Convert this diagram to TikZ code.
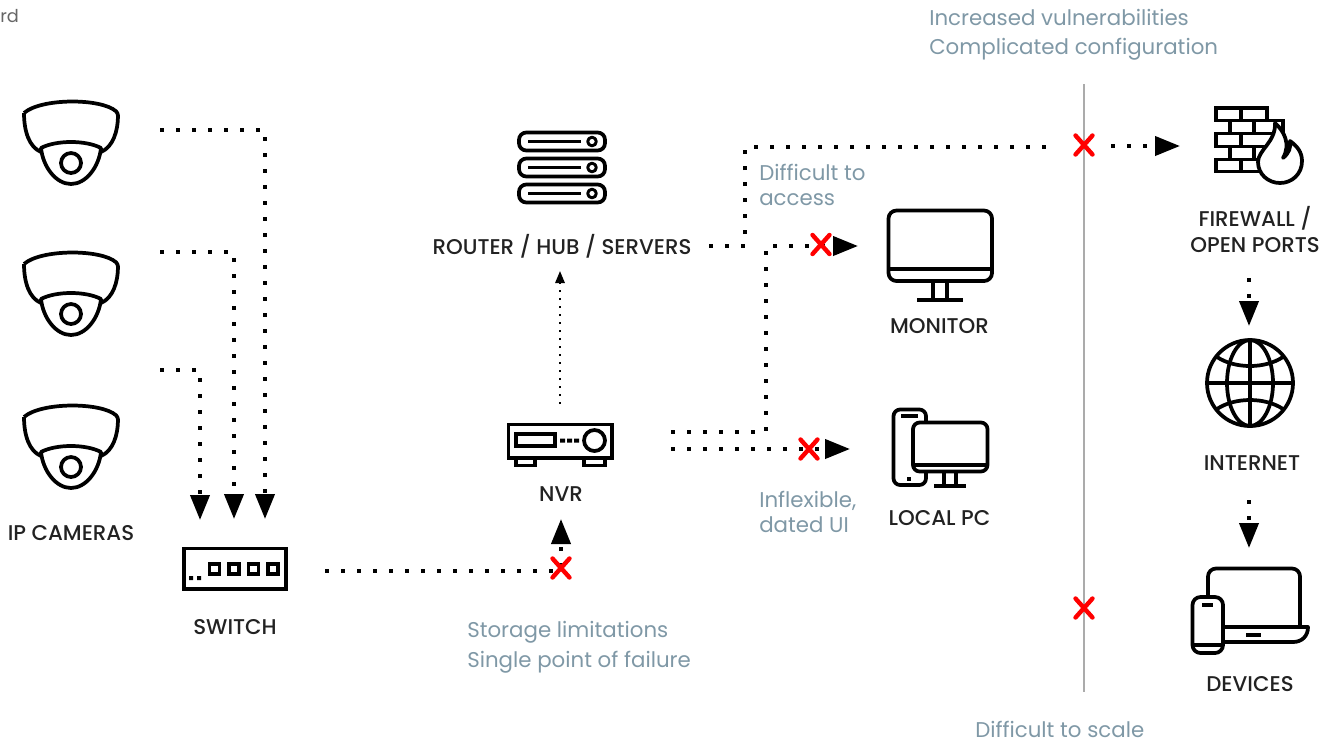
\documentclass[tikz,border=0pt]{standalone}
\usepackage{fontspec}
\setmainfont{Poppins}
\newfontfamily\medfont{Poppins Medium}
\usetikzlibrary{arrows.meta}
\definecolor{lbl}{HTML}{222222}
\definecolor{note}{HTML}{7F98A6}
\definecolor{rule}{HTML}{ABABAB}
\tikzset{
  x=0.75pt,y=-0.75pt,
  ico/.style={line width=2.8pt,line join=round,black},
  dotline/.style={line width=3pt,dash pattern=on 3pt off 9pt,black},
  thindot/.style={line width=1.5pt,dash pattern=on 1.5pt off 4.5pt,black},
  tipped/.style={-{Triangle[length=18.75pt,width=14.25pt,black]}},
  smalltip/.style={-{Triangle[length=9pt,width=7pt,black]}},
  label/.style={font=\medfont\fontsize{16}{19.5}\selectfont,text=lbl,inner sep=0pt,align=center},
  notetext/.style={font=\fontsize{16}{22.2}\selectfont,text=note,inner sep=0pt,align=left,anchor=north west},
  pics/cam/.style={code={
    \draw[ico,fill=white,rounded corners=2pt] (-47,0) .. controls (-30,-15) and (30,-15) .. (47,0)
      .. controls (47,18) and (42,34) .. (30,39);
    \draw[ico,rounded corners=2pt] (-47,0) .. controls (-47,18) and (-42,34) .. (-30,39);
    \draw[ico,fill=white] (-30,35) .. controls (-15,27) and (15,27) .. (30,35)
      .. controls (28,54) and (15,71) .. (0,71) .. controls (-15,71) and (-28,54) .. (-30,35) -- cycle;
    \draw[ico] (0,50) circle (10);
  }},
  pics/srv/.style={code={
    \draw[ico,rounded corners=5.5pt] (-43,-9) rectangle (43,9);
    \draw[ico] (-34,0) -- (19,0);
    \draw[ico,line width=2.2pt] (30,0) circle (4.3);
  }},
}
\newcommand{\redx}[2]{\draw[red,line width=3.3pt,line cap=round] (#1-8.5,#2-9.5) -- (#1+8.5,#2+9.5) (#1-8.5,#2+9.5) -- (#1+8.5,#2-9.5);}
\begin{document}
\begin{tikzpicture}
\useasboundingbox (0,0) rectangle (1324,740);
% clipped leftover text
\node[anchor=west,inner sep=0pt,font=\fontsize{13.3}{15}\selectfont,text=black!60] (frag) at (0,16) {rd};

% cameras
\pic at (71,113) {cam};
\pic at (71,264) {cam};
\pic at (71,417) {cam};
\node[label] (lcam) at (71,533) {IP CAMERAS};

% anchors of connectors
\coordinate (c1s) at (160,130); \coordinate (c1m) at (265,130); \coordinate (c1e) at (265,519);
\coordinate (c2s) at (160,252); \coordinate (c2m) at (234,252); \coordinate (c2e) at (234,519);
\coordinate (c3s) at (160,370); \coordinate (c3m) at (200,370); \coordinate (c3e) at (200,520);
\draw[dotline,tipped] (c1s) -- (c1m) -- (c1e);
\draw[dotline,tipped] (c2s) -- (c2m) -- (c2e);
\draw[dotline,tipped] (c3s) -- (c3m) -- (c3e);

% switch
\draw[ico,line join=miter] (184,548.5) rectangle (286,589);
\foreach \q in {214.5,234,253.5,273}
  \draw[ico,line join=miter] (\q-5,564) rectangle (\q+5,574);
\fill (189,576) rectangle (193,580) (197,576) rectangle (201,580);
\node[label] (lsw) at (235,627) {SWITCH};

% switch -> NVR
\coordinate (s1) at (325,571); \coordinate (s2) at (561,571); \coordinate (s3) at (561,519);
\draw[dotline,tipped] (s1) -- (s2) -- (s3);
\redx{561}{568}

% NVR icon
\draw[ico,fill=white,line join=miter] (516,458) rectangle (535,465.5) (584,458) rectangle (605,465.5);
\draw[ico,line join=miter] (508.5,424.5) rectangle (612,458);
\draw[ico,line join=miter] (516,434) rectangle (555,446);
\fill (560,438.5) rectangle (565,442.5) (567,438.5) rectangle (572,442.5) (574,438.5) rectangle (579,442.5);
\draw[ico] (594.5,440.5) circle (10.5);
\node[label] (lnvr) at (561,494) {NVR};

% NVR -> router
\coordinate (n1) at (560,404); \coordinate (n2) at (560,271);
\draw[thindot,smalltip] (n1) -- (n2);

% server icon
\pic at (562,141.5) {srv};
\pic at (562,167.5) {srv};
\pic at (562,193.5) {srv};
\node[label] (lrt) at (562,246) {ROUTER / HUB / SERVERS};

% router -> firewall
\coordinate (r1) at (709,246); \coordinate (r2) at (745,246); \coordinate (r3) at (745,147); \coordinate (r4) at (1050,147);
\draw[dotline] (r1) -- (r2) -- (r3) -- (r4);
\coordinate (f1) at (1111,146); \coordinate (f2) at (1180,146);
\draw[dotline,tipped] (f1) -- (f2);

% NVR -> monitor
\coordinate (m1) at (671,432); \coordinate (m2) at (765.5,432); \coordinate (m3) at (765.5,246); \coordinate (m4) at (858,246);
\draw[dotline,tipped] (m1) -- (m2) -- (m3) -- (m4);
\redx{821}{244.5}

% NVR -> PC
\coordinate (p1) at (671,449); \coordinate (p2) at (850,449);
\draw[dotline,tipped] (p1) -- (p2);
\redx{809}{449}

% monitor
\draw[ico,rounded corners=6pt] (888.5,210.5) rectangle (992,281);
\draw[ico] (888.5,269) -- (992,269);
\draw[ico] (933,281) -- (933,300) (947,281) -- (947,300);
\draw[ico] (917,300) -- (963,300);
\node[label] (lmon) at (939.5,326) {MONITOR};

% local PC
\draw[ico,rounded corners=5pt] (893.5,409.5) rectangle (926,485);
\draw[ico] (901,416) -- (918,416);
\fill (907,477) rectangle (911,481);
\draw[ico,rounded corners=5pt,fill=white] (913,422.5) rectangle (987.5,471.5);
\draw[ico] (913,465) -- (987.5,465);
\draw[ico] (944,471.5) -- (944,486) (956,471.5) -- (956,486);
\draw[ico] (934,486) -- (966,486);
\node[label] (lpc) at (939.5,518) {LOCAL PC};

% divider
\coordinate (d1) at (1084,84); \coordinate (d2) at (1084,692);
\draw[rule,line width=1.8pt] (d1) -- (d2);
\redx{1084}{145}
\redx{1084}{608}

% firewall
\begin{scope}[ico,line join=miter]
\draw (1216,108) rectangle (1267,120.5);
\draw (1241,108) -- (1241,120.5);
\draw (1230,120.5) rectangle (1283,133.5);
\draw (1254,120.5) -- (1254,133.5);
\draw (1216,133.5) rectangle (1283,146.5);
\draw (1241,133.5) -- (1241,146.5);
\draw (1230,146.5) rectangle (1283,159.5);
\draw (1254,146.5) -- (1254,159.5);
\draw (1216,159.5) rectangle (1283,171.5);
\draw (1241,159.5) -- (1241,171.5);
\end{scope}
\draw[ico,fill=white] (1275,123) .. controls (1284,131) and (1291,144) .. (1283,158)
  .. controls (1289,153) and (1291,148) .. (1290,141)
  .. controls (1297,146) and (1302,152) .. (1302,161)
  .. controls (1302,174) and (1292,183) .. (1280,183)
  .. controls (1268,183) and (1258,174) .. (1258,162)
  .. controls (1258,150) and (1276,142) .. (1275,123) -- cycle;
\node[label] (lfw) at (1255,229) {FIREWALL /\\OPEN PORTS};

% firewall -> internet
\coordinate (i1) at (1249,278); \coordinate (i2) at (1249,326);
\draw[dotline,tipped] (i1) -- (i2);

% globe
\begin{scope}[ico]
\draw (1250,383) circle (43);
\draw (1250,383) ellipse (23 and 43);
\draw (1250,340) -- (1250,426) (1207,383) -- (1293,383);
\draw (1217,357) .. controls (1235,369) and (1265,369) .. (1283,357);
\draw (1217,409) .. controls (1235,397) and (1265,397) .. (1283,409);
\end{scope}
\node[label] (lnet) at (1252,463) {INTERNET};

% internet -> devices
\coordinate (v1) at (1249,500); \coordinate (v2) at (1249,548);
\draw[dotline,tipped] (v1) -- (v2);

% devices
\begin{scope}[ico]
\draw[rounded corners=6pt] (1208,627) -- (1208,568.5) -- (1300,568.5) -- (1300,627);
\draw (1223,627) -- (1308,627) .. controls (1308,636) and (1302,642) .. (1293,642) -- (1223,642);
\draw (1246,635) -- (1261,635);
\draw[rounded corners=6pt,fill=white] (1192.5,597) rectangle (1223,653);
\draw (1192.5,645) -- (1223,645);
\draw (1202,605) -- (1213,605);
\end{scope}
\node[label] (ldev) at (1250,684) {DEVICES};

% notes
\node[notetext] (n-a) at (929,8.5) {Increased vulnerabilities\\Complicated configuration};
\node[notetext,font=\fontsize{16}{18.7}\selectfont] (n-b) at (759,164) {Difficult to\\access};
\node[notetext,font=\fontsize{16}{18.7}\selectfont] (n-c) at (759,491) {Inflexible,\\dated UI};
\node[notetext] (n-d) at (467,621) {Storage limitations\\Single point of failure};
\node[notetext] (n-e) at (975,721) {Difficult to scale};
\end{tikzpicture}
\end{document}
